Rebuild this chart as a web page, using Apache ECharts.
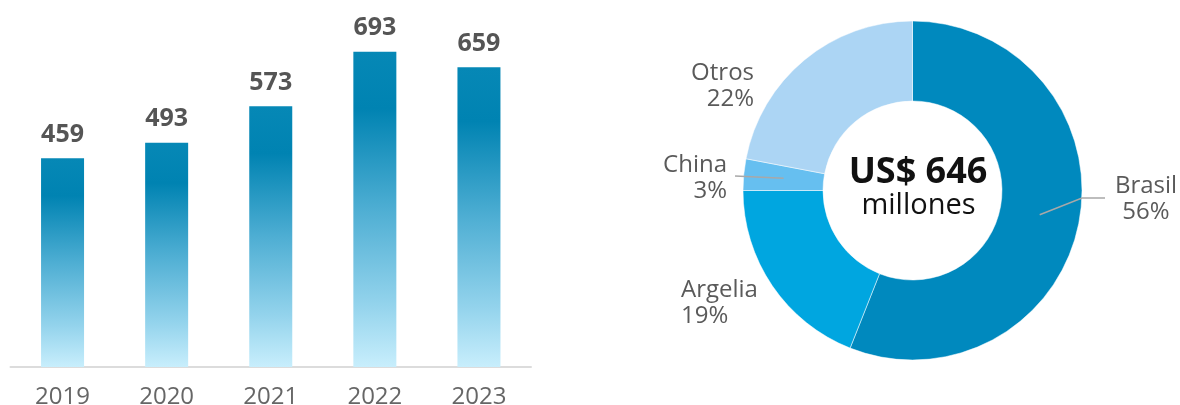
<!DOCTYPE html>
<html>
<head>
<meta charset="utf-8">
<script src="https://cdn.jsdelivr.net/npm/echarts@6/dist/echarts.min.js"></script>
<style>
html,body{margin:0;padding:0;background:#fff;}
#c{width:1180px;height:405px;}
</style>
</head>
<body>
<div id="c"></div>
<script>
// ---- data ----
const years = ['2019', '2020', '2021', '2022', '2023'];
const exportValues = [459, 493, 573, 693, 659];
const countries = ['Brasil', 'Argelia', 'China', 'Otros'];
const shares = [56, 19, 3, 22];
const centerTitle = 'US$ 646';
const centerSub = 'millones';

// ---- style ----
const FONT = '"Open Sans", "Noto Sans", sans-serif';
const pieColors = ['#0089be', '#00a6e0', '#66bff0', '#acd5f4'];
const PIE_CX = 912.5, PIE_CY = 190.5, R_IN = 89.5, R_OUT = 169.5;

// label placement for each slice (layout only); guide = elbow/end points of leader line
const labelPlacement = {
  'Brasil':  { x: 1146, y: 199, align: 'center', guide: [[1082, 198], [1105, 198]] },
  'Argelia': { x: 681,  y: 303, align: 'left' },
  'China':   { x: 727,  y: 178, align: 'right', guide: [[735, 176]] },
  'Otros':   { x: 754,  y: 86,  align: 'right' }
};

// leader lines start at each slice's mid-angle, mid-ring (derived from the data)
const total = shares.reduce((a, b) => a + b, 0);
const guideLines = [];
(function () {
  let acc = 0;
  const rMid = (R_IN + R_OUT) / 2;
  shares.forEach((v, i) => {
    const mid = (acc + v / 2) / total * Math.PI * 2;
    acc += v;
    const lp = labelPlacement[countries[i]];
    if (!lp.guide) return;
    const start = [PIE_CX + rMid * Math.sin(mid), PIE_CY - rMid * Math.cos(mid)];
    guideLines.push([start].concat(lp.guide));
  });
})();

const barGradient = new echarts.graphic.LinearGradient(0, 0, 0, 1, [
  { offset: 0, color: '#0688b6' },
  { offset: 0.18, color: '#0083b2' },
  { offset: 0.5, color: '#4eaed3' },
  { offset: 0.8, color: '#93d3ec' },
  { offset: 1, color: '#c8eefc' }
]);

const chart = echarts.init(document.getElementById('c'), null, { renderer: 'canvas' });

chart.setOption({
  animation: false,
  backgroundColor: '#ffffff',
  grid: { left: 10.5, width: 520.5, top: 3, height: 364, containLabel: false, outerBoundsMode: 'none' },
  xAxis: {
    type: 'category',
    data: years,
    axisLine: { show: true, lineStyle: { color: '#dcdcdc', width: 2 } },
    axisTick: { show: false },
    axisLabel: { color: '#666666', fontFamily: FONT, fontSize: 24, margin: 18 }
  },
  yAxis: {
    type: 'value', min: 0, max: 800, interval: 100,
    show: false, splitLine: { show: false }
  },
  series: [
    {
      type: 'bar',
      data: exportValues,
      barWidth: 43,
      itemStyle: { color: barGradient },
      label: {
        show: true, position: 'top', distance: 11,
        color: '#555555', fontFamily: FONT, fontWeight: 'bold', fontSize: 25
      }
    },
    {
      type: 'pie',
      center: [PIE_CX, PIE_CY],
      radius: [R_IN, R_OUT],
      startAngle: 90,
      clockwise: true,
      data: countries.map((n, i) => ({
        name: n, value: shares[i],
        itemStyle: { color: pieColors[i] }
      })),
      itemStyle: { borderColor: '#ffffff', borderWidth: 0.5 },
      label: {
        show: true,
        overflow: 'none',
        formatter: p => p.name + '\n' + p.value + '%',
        color: '#5a5a5a', fontFamily: FONT, fontSize: 24, lineHeight: 26
      },
      labelLine: { show: false },
      labelLayout: function (params) {
        const lp = labelPlacement[countries[params.dataIndex]];
        return { x: lp.x, y: lp.y, align: lp.align, verticalAlign: 'middle', hideOverlap: false };
      },
      emphasis: { disabled: true }
    }
  ],
  graphic: guideLines.map(pts => ({
    type: 'polyline', z: 100, silent: true,
    shape: { points: pts },
    style: { stroke: '#a8a8a8', lineWidth: 1.5, fill: null }
  })).concat([
    {
      type: 'text', x: PIE_CX + 5.5, y: 173, z: 100,
      style: {
        text: centerTitle, fill: '#111111', font: 'bold 36px ' + FONT,
        textAlign: 'center', textVerticalAlign: 'middle'
      }
    },
    {
      type: 'text', x: PIE_CX + 6, y: 206, z: 100,
      style: {
        text: centerSub, fill: '#111111', font: '29px ' + FONT,
        textAlign: 'center', textVerticalAlign: 'middle'
      }
    }
  ])
});
</script>
</body>
</html>
